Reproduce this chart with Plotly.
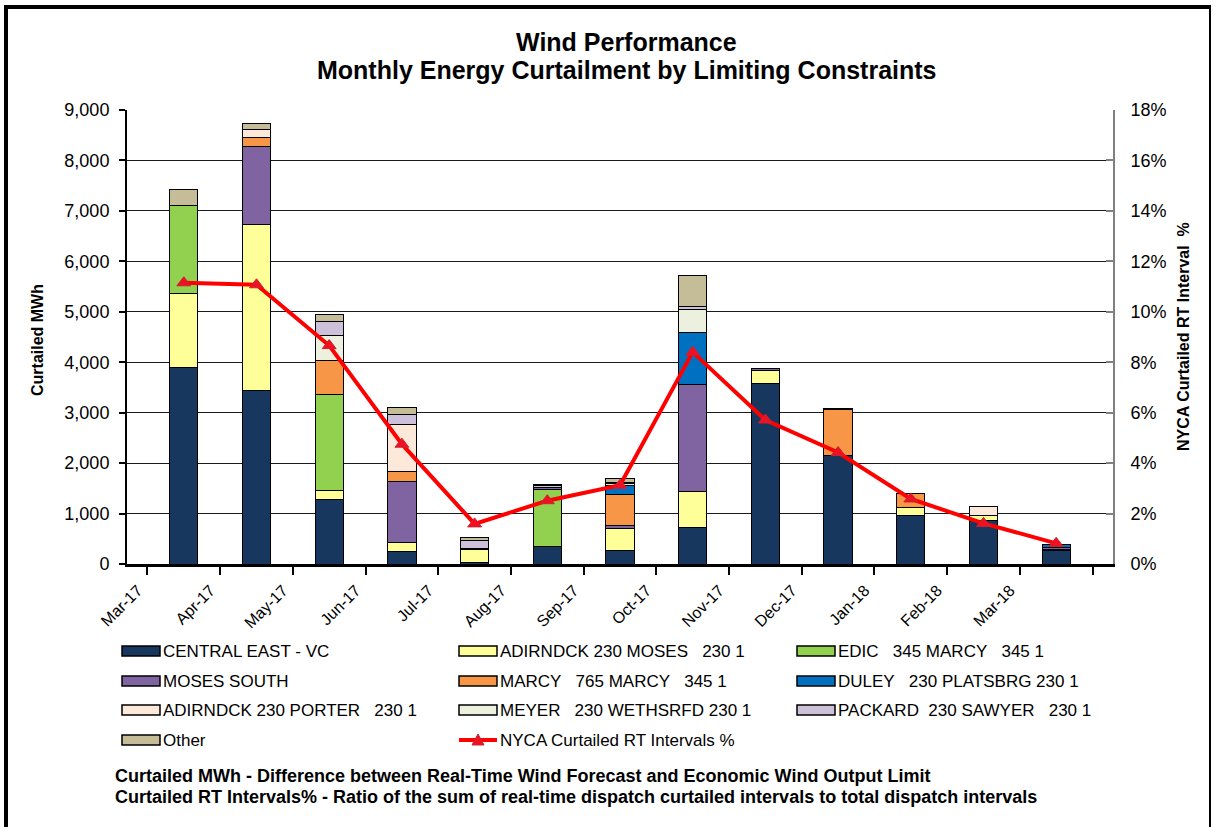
import plotly.graph_objects as go

months = ["Mar-17", "Apr-17", "May-17", "Jun-17", "Jul-17", "Aug-17", "Sep-17",
          "Oct-17", "Nov-17", "Dec-17", "Jan-18", "Feb-18", "Mar-18"]

central_east = [3905, 3430, 1270, 245, 30, 343, 258, 720, 3570, 2160, 952, 872, 258]
adirndck_moses = [1465, 3305, 185, 180, 260, 0, 450, 714, 270, 0, 164, 99, 39]
edic_marcy = [1730, 0, 1915, 0, 0, 1137, 0, 0, 0, 0, 0, 0, 0]
moses_south = [0, 1550, 0, 1215, 15, 30, 52, 2128, 30, 0, 0, 0, 40]
marcy_765 = [0, 175, 668, 184, 0, 0, 608, 0, 0, 893, 272, 0, 0]
duley_platsbrg = [0, 0, 0, 0, 0, 0, 192, 1018, 0, 30, 0, 0, 40]
adirndck_porter = [0, 160, 0, 932, 0, 0, 0, 0, 0, 0, 0, 173, 0]
meyer_wethsrfd = [0, 0, 487, 0, 0, 0, 30, 456, 0, 0, 0, 0, 0]
packard_sawyer = [0, 0, 286, 212, 170, 42, 30, 73, 0, 0, 0, 0, 0]
other = [315, 120, 132, 131, 55, 20, 79, 615, 0, 0, 0, 0, 0]

nyca_pct = [0.1115, 0.1107, 0.0866, 0.0475, 0.0159, 0.0251, 0.0312,
            0.0840, 0.0571, 0.0442, 0.0258, 0.0161, 0.0082]

series_names = [
    "CENTRAL EAST - VC",
    "ADIRNDCK 230 MOSES\u00a0\u00a0\u00a0230 1",
    "EDIC\u00a0\u00a0\u00a0345 MARCY\u00a0\u00a0\u00a0345 1",
    "MOSES SOUTH",
    "MARCY\u00a0\u00a0\u00a0765 MARCY\u00a0\u00a0\u00a0345 1",
    "DULEY\u00a0\u00a0\u00a0230 PLATSBRG 230 1",
    "ADIRNDCK 230 PORTER\u00a0\u00a0\u00a0230 1",
    "MEYER\u00a0\u00a0\u00a0230 WETHSRFD 230 1",
    "PACKARD\u00a0\u00a0230 SAWYER\u00a0\u00a0\u00a0230 1",
    "Other",
]
line_name = "NYCA Curtailed RT Intervals %"
series_values = [central_east, adirndck_moses, edic_marcy, moses_south, marcy_765,
                 duley_platsbrg, adirndck_porter, meyer_wethsrfd, packard_sawyer, other]
series_colors = ["#17375E", "#FFFF99", "#92D050", "#8064A2", "#F79646",
                 "#0070C0", "#FDE9D9", "#EBF1DE", "#CCC0DA", "#C4BD97"]

W, H = 1217, 827
L, R, T, B = 127, 1113, 110, 564
FONT = "Liberation Sans, Arial, sans-serif"


def px(x):
    return (x - L) / (R - L)


def py(y):
    return (B - y) / (B - T)


fig = go.Figure()
for name, vals, col in zip(series_names, series_values, series_colors):
    fig.add_trace(go.Bar(x=months, y=vals, name=name, marker_color=col,
                         marker_line_color="#000000", marker_line_width=1,
                         showlegend=False))

fig.add_trace(go.Scatter(x=months, y=nyca_pct, name=line_name, yaxis="y2",
                         mode="lines+markers",
                         line=dict(color="#FF0000", width=4),
                         marker=dict(symbol="triangle-up", size=12, color="#EE1122",
                                     line=dict(color="#CC2233", width=1)),
                         showlegend=False))

shapes = []
annotations = []

# title
for txt, yy in [("Wind Performance", 42),
                ("Monthly Energy Curtailment by Limiting Constraints", 70)]:
    annotations.append(dict(text=f"<b>{txt}</b>", x=px(626), y=py(yy),
                            xref="paper", yref="paper", showarrow=False,
                            xanchor="center", yanchor="middle",
                            font=dict(family=FONT, size=25, color="#000")))

# axis titles
annotations.append(dict(text="<b>Curtailed MWh</b>", x=px(37), y=py(340),
                        xref="paper", yref="paper", showarrow=False, textangle=-90,
                        xanchor="center", yanchor="middle",
                        font=dict(family=FONT, size=16, color="#000")))
annotations.append(dict(text="<b>NYCA Curtailed RT Interval\u00a0\u00a0%</b>", x=px(1183), y=py(337),
                        xref="paper", yref="paper", showarrow=False, textangle=-90,
                        xanchor="center", yanchor="middle",
                        font=dict(family=FONT, size=16, color="#000")))

# manual legend
col_x = [122, 459, 797]
row_y = [651, 681, 710, 740]
LEG_FONT = 17
for i, (name, col) in enumerate(zip(series_names, series_colors)):
    r, c = divmod(i, 3)
    x0, yc = col_x[c], row_y[r]
    shapes.append(dict(type="rect", xref="paper", yref="paper",
                       x0=px(x0), x1=px(x0 + 38), y0=py(yc + 5), y1=py(yc - 5),
                       fillcolor=col, line=dict(color="#000", width=1.5)))
    annotations.append(dict(text=name, x=px(x0 + 39), y=py(yc), xref="paper", yref="paper",
                            showarrow=False, xanchor="left", yanchor="middle",
                            font=dict(family=FONT, size=LEG_FONT, color="#000")))
# line legend entry (row 4, col 2)
lx, ly = col_x[1], row_y[3]
shapes.append(dict(type="line", xref="paper", yref="paper", x0=px(lx), x1=px(lx + 38),
                   y0=py(ly), y1=py(ly), line=dict(color="#FF0000", width=4)))
tri_x0, tri_x1, tri_xm = px(lx + 13), px(lx + 25), px(lx + 19)
shapes.append(dict(type="path", xref="paper", yref="paper",
                   path=f"M {tri_x0} {py(ly + 5)} L {tri_x1} {py(ly + 5)} L {tri_xm} {py(ly - 6)} Z",
                   fillcolor="#EE1122", line=dict(color="#CC2233", width=1)))
annotations.append(dict(text=line_name, x=px(lx + 39), y=py(ly), xref="paper", yref="paper",
                        showarrow=False, xanchor="left", yanchor="middle",
                        font=dict(family=FONT, size=LEG_FONT, color="#000")))

# footnotes
foot1 = "Curtailed MWh - Difference between Real-Time Wind Forecast and Economic Wind Output Limit"
foot2 = "Curtailed RT Intervals% - Ratio of the sum of real-time dispatch curtailed intervals to total dispatch intervals"
for txt, yy in [(foot1, 776), (foot2, 797)]:
    annotations.append(dict(text=f"<b>{txt}</b>", x=px(113), y=py(yy), xref="paper", yref="paper",
                            showarrow=False, xanchor="left", yanchor="middle",
                            font=dict(family=FONT, size=18, color="#000")))

# outer frame
shapes.append(dict(type="line", xref="paper", yref="paper", x0=px(6), x1=px(6),
                   y0=py(5), y1=py(840), line=dict(color="#000", width=4)))
shapes.append(dict(type="line", xref="paper", yref="paper", x0=px(4), x1=px(1211),
                   y0=py(7), y1=py(7), line=dict(color="#000", width=4)))
shapes.append(dict(type="line", xref="paper", yref="paper", x0=px(1210), x1=px(1210),
                   y0=py(5), y1=py(840), line=dict(color="#000", width=2)))

fig.update_layout(
    width=W, height=H, autosize=False,
    margin=dict(l=L, r=W - R, t=T, b=H - B, pad=0),
    paper_bgcolor="#FFFFFF", plot_bgcolor="#FFFFFF",
    barmode="stack", bargap=0.61,
    showlegend=False,
    font=dict(family=FONT, size=16, color="#000"),
    shapes=shapes, annotations=annotations,
    xaxis=dict(type="category", showline=True, linecolor="#000", linewidth=2.5,
               ticks="outside", tickson="boundaries", ticklen=8, tickcolor="#000",
               tickwidth=1.5, tickangle=-45, tickfont=dict(family=FONT, size=16),
               showgrid=False, ticklabelshift=-46, ticklabelstandoff=8),
    yaxis=dict(range=[0, 9000], dtick=1000, tickformat=",d", showline=True,
               linecolor="#000", linewidth=2, ticks="outside", ticklen=6,
               tickcolor="#000", tickwidth=1.5, showgrid=True, gridcolor="#1a1a1a",
               gridwidth=1, zeroline=False, tickfont=dict(family=FONT, size=18),
               ticklabelstandoff=6),
    yaxis2=dict(range=[0, 0.18], dtick=0.02, tickformat=".0%", overlaying="y",
                side="right", showline=True, linecolor="#808080", linewidth=2,
                ticks="inside", ticklen=7, tickcolor="#808080", tickwidth=1.5,
                showgrid=False, zeroline=False, tickfont=dict(family=FONT, size=18),
                ticklabelstandoff=12),
)

fig.write_html("out.html", config={"displayModeBar": False},
               post_script="document.body.style.margin='0px';document.body.style.overflow='hidden';")
